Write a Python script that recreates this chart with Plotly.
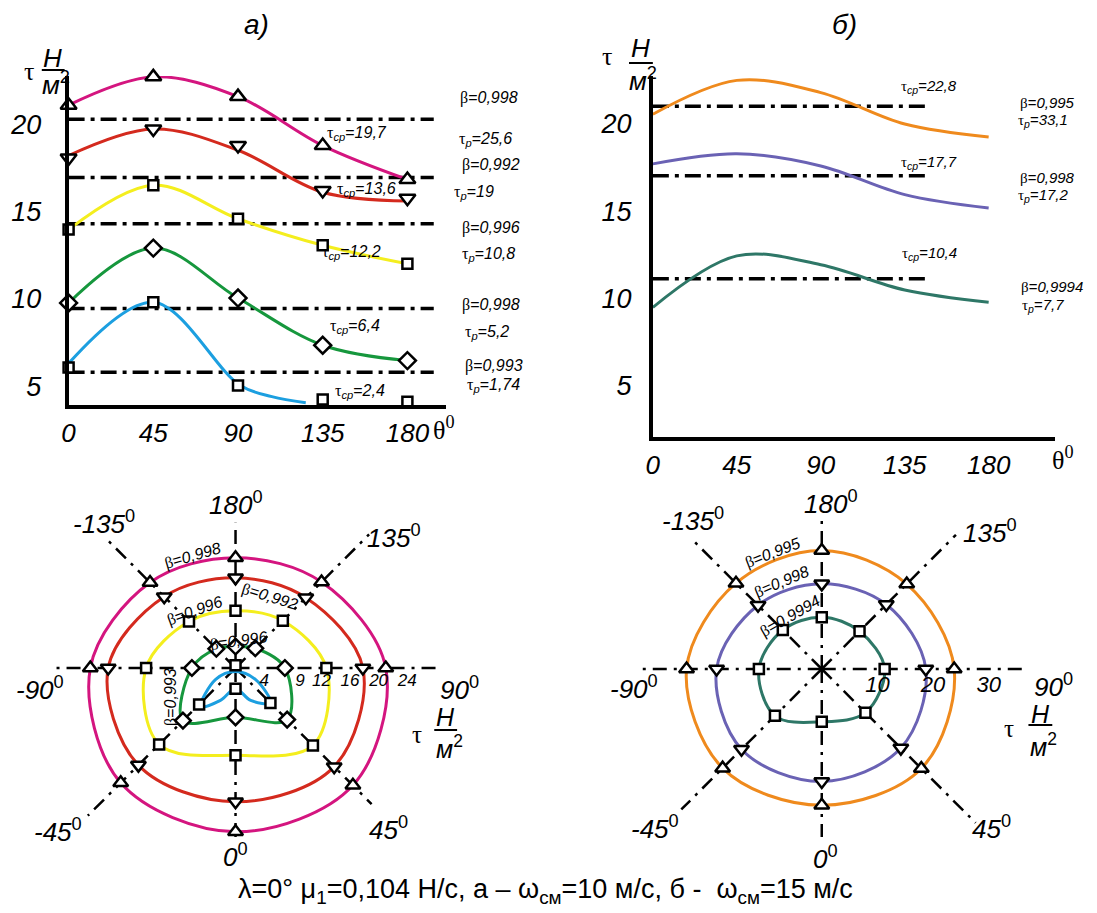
import plotly.graph_objects as go

W, H = 1097, 913

# ---------------- data: panel a) (cartesian) ----------------
theta_pts = [0, 45, 90, 135, 180]
a_magenta = [21.08, 22.70, 21.57, 18.77, 16.83]
a_red_pts = [18.06, 19.72, 18.77, 16.20, 15.75]
a_red_curve = [18.20, 19.72, 18.50, 16.10, 15.60]
a_yellow = [13.96, 16.50, 14.58, 13.06, 12.00]
a_green = [9.76, 12.90, 10.04, 7.34, 6.46]
a_blue_pts = [6.06, 9.80, 5.04, 4.24, 4.10]
a_blue_curve_theta = [0, 45, 91, 108, 126]
a_blue_curve = [6.30, 9.80, 5.05, 4.40, 4.05]
a_tcp_levels = [20.28, 16.94, 14.30, 9.44, 5.80]
a_tcp_span = [0, 194]

# ---------------- data: panel б) (cartesian) ----------------
b_orange = [20.56, 22.50, 21.80, 20.00, 19.26]
b_purple = [17.72, 18.30, 17.60, 15.96, 15.19]
b_teal = [9.50, 12.45, 11.94, 10.50, 9.80]
b_tcp_levels = [21.02, 17.04, 11.14]
b_tcp_span = [0, 149]

# ---------------- data: polar diagrams ----------------
ang = [180, 135, 90, 45, 0, -45, -90, -135, 180]
pa_magenta = [15.4, 17.0, 21.0, 23.2, 22.9, 22.7, 20.3, 16.9, 15.4]
pa_red = [12.6, 13.9, 17.8, 19.5, 18.7, 19.2, 17.8, 14.1, 12.6]
pa_yellow = [8.0, 9.35, 12.7, 15.3, 12.2, 15.1, 12.5, 9.2, 8.0]
pa_green = [3.0, 3.9, 6.9, 10.2, 6.9, 10.4, 6.1, 3.8, 3.0]
pa_blue_theta = [-42, -60, 0, 60, 45, 25, 0, -25, -42]
pa_blue = [7.2, 3.2, 0.5, 3.2, 6.9, 5.0, 2.9, 5.0, 7.2]
pa_blue_mk_theta = [180, 45, 0, -45]
pa_blue_mk = [0.4, 6.9, 2.9, 7.2]

pb_orange = [21.3, 21.6, 23.8, 25.3, 24.5, 25.2, 24.3, 21.8, 21.3]
pb_purple = [15.3, 16.4, 18.7, 20.1, 20.2, 20.4, 18.9, 16.2, 15.3]
pb_teal = [9.3, 9.6, 11.3, 11.1, 9.5, 11.9, 11.3, 9.9, 9.3]

axis_theta = [180, 135, 90, 45, 0, -45, -90, -135]
pa_axis_len = [20.3, 26.4, 28.5, 26.9, 24.2, 29.2, 25.6, 25.4]
pb_axis_len = [26.6, 34.1, 36.4, 39.1, 30.2, 35.7, 33.2, 33.2]

pa_rticks = [4, 9, 12, 16, 20, 24]
pb_rticks = [10, 20, 30]
x_ticks = [0, 45, 90, 135, 180]
y_ticks = [5, 10, 15, 20]
angle_labels = ["180", "-135", "135", "-90", "90", "-45", "45", "0"]

# ---------------- styles ----------------
C_MAG, C_RED, C_YEL, C_GRN, C_BLU = "#d4157f", "#d42a1e", "#f4ee1e", "#16973d", "#1c9fe0"
C_ORA, C_PUR, C_TEA = "#ef8a1d", "#6a62b4", "#2e7767"
SANS = "Liberation Sans"
SERIF = "Liberation Serif"
DASHDOT = "16px,6px,4px,6px"
PDASH = "14px,7px,3px,7px"


def mk(symbol, size):
    return dict(symbol=symbol, size=size, color="white", line=dict(color="black", width=2.5))


fig = go.Figure()

# ---------- cartesian a) ----------
for lv in a_tcp_levels:
    fig.add_trace(go.Scatter(x=a_tcp_span, y=[lv, lv], mode="lines", xaxis="x", yaxis="y",
                             line=dict(color="black", width=3.5, dash=DASHDOT), hoverinfo="skip"))
curves_a = [
    (theta_pts, a_magenta, theta_pts, a_magenta, C_MAG, "triangle-up", 14),
    (theta_pts, a_red_curve, theta_pts, a_red_pts, C_RED, "triangle-down", 14),
    (theta_pts, a_yellow, theta_pts, a_yellow, C_YEL, "square", 10),
    (theta_pts, a_green, theta_pts, a_green, C_GRN, "diamond", 13),
    (a_blue_curve_theta, a_blue_curve, theta_pts, a_blue_pts, C_BLU, "square", 10),
]
for cx, cy, px_, py_, col, sym, sz in curves_a:
    fig.add_trace(go.Scatter(x=cx, y=cy, mode="lines", line=dict(color=col, width=3, shape="spline"),
                             xaxis="x", yaxis="y", hoverinfo="skip"))
for cx, cy, px_, py_, col, sym, sz in curves_a:
    fig.add_trace(go.Scatter(x=px_, y=py_, mode="markers", marker=mk(sym, sz), cliponaxis=False,
                             xaxis="x", yaxis="y", hoverinfo="skip"))

# ---------- cartesian б) ----------
for lv in b_tcp_levels:
    fig.add_trace(go.Scatter(x=b_tcp_span, y=[lv, lv], mode="lines", xaxis="x2", yaxis="y2",
                             line=dict(color="black", width=3.5, dash=DASHDOT), hoverinfo="skip"))
for ys, col in [(b_orange, C_ORA), (b_purple, C_PUR), (b_teal, C_TEA)]:
    fig.add_trace(go.Scatter(x=theta_pts, y=ys, mode="lines", line=dict(color=col, width=3, shape="spline"),
                             xaxis="x2", yaxis="y2", hoverinfo="skip"))

# ---------- polar a) ----------
for th, ln in zip(axis_theta, pa_axis_len):
    fig.add_trace(go.Scatterpolar(r=[0, ln], theta=[th, th], mode="lines", subplot="polar",
                                  line=dict(color="black", width=2.5, dash=PDASH), hoverinfo="skip"))
polar_a = [
    (ang, pa_magenta, C_MAG, "triangle-up", 13),
    (ang, pa_red, C_RED, "triangle-down", 13),
    (ang, pa_yellow, C_YEL, "square", 10),
    (ang, pa_green, C_GRN, "diamond", 12),
]
for th, rr, col, sym, sz in polar_a:
    fig.add_trace(go.Scatterpolar(r=rr, theta=th, mode="lines", subplot="polar",
                                  line=dict(color=col, width=3, shape="spline"), hoverinfo="skip"))
fig.add_trace(go.Scatterpolar(r=pa_blue, theta=pa_blue_theta, mode="lines", subplot="polar",
                              line=dict(color=C_BLU, width=3, shape="spline"), hoverinfo="skip"))
for th, rr, col, sym, sz in polar_a:
    fig.add_trace(go.Scatterpolar(r=rr[:-1], theta=th[:-1], mode="markers", subplot="polar",
                                  marker=mk(sym, sz), hoverinfo="skip"))
fig.add_trace(go.Scatterpolar(r=pa_blue_mk, theta=pa_blue_mk_theta, mode="markers", subplot="polar",
                              marker=mk("square", 10), hoverinfo="skip"))

# ---------- polar б) ----------
for th, ln in zip(axis_theta, pb_axis_len):
    fig.add_trace(go.Scatterpolar(r=[0, ln], theta=[th, th], mode="lines", subplot="polar2",
                                  line=dict(color="black", width=2.5, dash=PDASH), hoverinfo="skip"))
polar_b = [
    (ang, pb_orange, C_ORA, "triangle-up", 13),
    (ang, pb_purple, C_PUR, "triangle-down", 13),
    (ang, pb_teal, C_TEA, "square", 10),
]
for th, rr, col, sym, sz in polar_b:
    fig.add_trace(go.Scatterpolar(r=rr, theta=th, mode="lines", subplot="polar2",
                                  line=dict(color=col, width=3, shape="spline"), hoverinfo="skip"))
for th, rr, col, sym, sz in polar_b:
    fig.add_trace(go.Scatterpolar(r=rr[:-1], theta=th[:-1], mode="markers", subplot="polar2",
                                  marker=mk(sym, sz), hoverinfo="skip"))


# ---------- layout helpers ----------
def dom_x(a, b):
    return [a / W, b / W]


def dom_y(top, bottom):
    return [1 - bottom / H, 1 - top / H]


def it(s):
    return f"<i>{s}</i>"


def g(ch):
    return f"<span style='font-family:{SERIF}'>{ch}</span>"


annotations = []


def ann(text, x, y, size=15, angle=0, family=SANS, xanchor="center", yanchor="middle"):
    annotations.append(dict(text=text, x=x / W, y=1 - y / H, xref="paper", yref="paper", showarrow=False,
                            font=dict(size=size, family=family, color="black"), textangle=angle,
                            xanchor=xanchor, yanchor=yanchor))


def beta(v):
    return f"{g('β')}={it(v)}"


def tcp(v):
    return f"{g('τ')}<sub>{it('ср')}</sub>={it(v)}"


def tp(v):
    return f"{g('τ')}<sub>{it('р')}</sub>={it(v)}"


axis_common = dict(showgrid=False, zeroline=False, showline=True, linewidth=4, linecolor="black")

# panel titles
ann(it("a)"), 251, 24, size=28)
ann(it("б)"), 843, 24, size=28)

# cartesian a) labels
for txt, x, y in [(beta("0,998"), 485, 98), (tcp("19,7"), 352, 133), (tp("25,6"), 482, 139),
                  (beta("0,992"), 487, 165), (tcp("13,6"), 362, 190), (tp("19"), 470, 192),
                  (beta("0,996"), 487, 228), (tcp("12,2"), 347, 252), (tp("10,8"), 485, 255),
                  (beta("0,998"), 487, 305), (tcp("6,4"), 350, 327), (tp("5,2"), 483, 333),
                  (beta("0,993"), 490, 366), (tcp("2,4"), 355, 391), (tp("1,74"), 490, 385)]:
    ann(txt, x, y, size=16)
# cartesian б) labels
for txt, x, y in [(tcp("22,8"), 928, 86), (beta("0,995"), 1047, 102), (tp("33,1"), 1043, 120),
                  (tcp("17,7"), 928, 163), (beta("0,998"), 1047, 177), (tp("17,2"), 1043, 196),
                  (tcp("10,4"), 928, 253), (beta("0,9994"), 1052, 286), (tp("7,7"), 1043, 305)]:
    ann(txt, x, y, size=15)

# axis titles tau H/m^2 (fraction) and theta
shapes = []


def frac_title(xt, yt, xh, yh, xm, ym, bar_x0, bar_x1, bar_y, size=26):
    ann(g("τ"), xt, yt, size=size, family=SERIF)
    ann(it("H"), xh, yh, size=size)
    ann(it("м") + "<sup>2</sup>", xm, ym, size=size)
    shapes.append(dict(type="line", xref="paper", yref="paper", x0=bar_x0 / W, x1=bar_x1 / W,
                       y0=1 - bar_y / H, y1=1 - bar_y / H, line=dict(color="black", width=2)))


frac_title(22, 72, 46, 58, 49, 84, 35, 58, 70)
frac_title(604, 56, 638, 48, 640, 79, 626, 650, 63)
frac_title(413, 734, 441, 717, 445, 747, 430, 453, 730, size=25)
frac_title(1008, 728, 1040, 714, 1043, 745, 1028, 1052, 725, size=25)
ann(g("θ") + "<sup>0</sup>", 440, 428, size=26, family=SERIF)
ann(g("θ") + "<sup>0</sup>", 1063, 458, size=26, family=SERIF)

# polar angle labels
pa_label_pos = [(230, 503), (98, 522), (389, 536), (33, 688), (455, 688), (51, 830), (384, 828), (230, 855)]
pb_label_pos = [(829, 502), (690, 519), (989, 531), (631, 687), (1053, 685), (652, 827), (991, 827), (824, 857)]
for lab, (x, y) in zip(angle_labels, pa_label_pos):
    ann(it(lab) + "<sup>0</sup>", x, y, size=26)
for lab, (x, y) in zip(angle_labels, pb_label_pos):
    ann(it(lab) + "<sup>0</sup>", x, y, size=26)

# polar beta labels
for txt, x, y, a in [(beta("0,998"), 187, 556, -16), (beta("0,996"), 189, 611, -20),
                     (beta("0,992"), 265, 597, 17), (beta("0,996"), 233, 641, -8),
                     (beta("0,993"), 165, 697, -90),
                     (beta("0,995"), 771, 553, -21), (beta("0,998"), 780, 582, -23),
                     (beta("0,9994"), 789, 616, -30)]:
    ann(txt, x, y, size=16, angle=a)

# caption
ann("λ=0° μ<sub>1</sub>=0,104 H/c, а – ω<sub>см</sub>=10 м/с, б -  ω<sub>см</sub>=15 м/с", 542, 891, size=27)

# polar geometry
PA_C, PA_R, PA_SCALE = (230, 668), 215, 7.2
PB_C, PB_R, PB_SCALE = (820, 669), 222, 5.6


def polar_layout(c, R, scale, rticks, tsize):
    return dict(
        domain=dict(x=dom_x(c[0] - R, c[0] + R), y=dom_y(c[1] - R, c[1] + R)),
        bgcolor="rgba(0,0,0,0)",
        angularaxis=dict(rotation=270, direction="counterclockwise", showline=False, showgrid=False,
                         showticklabels=False, ticks=""),
        radialaxis=dict(range=[0, R / scale], showline=False, showgrid=False, ticks="", angle=0,
                        tickvals=rticks, ticktext=[it(v) for v in rticks],
                        tickfont=dict(size=tsize, family=SANS, color="black")),
    )


fig.update_layout(
    width=W, height=H, margin=dict(l=0, r=0, t=0, b=0),
    paper_bgcolor="white", plot_bgcolor="white", showlegend=False,
    xaxis=dict(domain=dom_x(62, 442), range=[0, 200.6], anchor="y", tickvals=x_ticks,
               ticktext=[it(v) for v in x_ticks], ticks="outside", ticklen=2, tickcolor="rgba(0,0,0,0)",
               tickfont=dict(size=26, family=SANS, color="black"), **axis_common),
    yaxis=dict(domain=dom_y(76, 405), range=[3.92, 22.75], anchor="x", tickvals=y_ticks,
               ticktext=[it(v) for v in y_ticks], ticks="outside", ticklen=18, tickcolor="rgba(0,0,0,0)",
               tickfont=dict(size=27, family=SANS, color="black"), **axis_common),
    xaxis2=dict(domain=dom_x(650, 1055), range=[0, 215.7], anchor="y2", tickvals=x_ticks,
                ticktext=[it(v) for v in x_ticks], ticks="outside", ticklen=2, tickcolor="rgba(0,0,0,0)",
                tickfont=dict(size=26, family=SANS, color="black"), **axis_common),
    yaxis2=dict(domain=dom_y(76, 437), range=[2.08, 22.75], anchor="x2", tickvals=y_ticks,
                ticktext=[it(v) for v in y_ticks], ticks="outside", ticklen=12, tickcolor="rgba(0,0,0,0)",
                tickfont=dict(size=27, family=SANS, color="black"), **axis_common),
    polar=polar_layout(PA_C, PA_R, PA_SCALE, pa_rticks, 17),
    polar2=polar_layout(PB_C, PB_R, PB_SCALE, pb_rticks, 22),
    annotations=annotations,
    shapes=shapes,
)

fig.write_html("out.html", config={"displayModeBar": False},
               post_script="document.body.style.margin='0px';")
